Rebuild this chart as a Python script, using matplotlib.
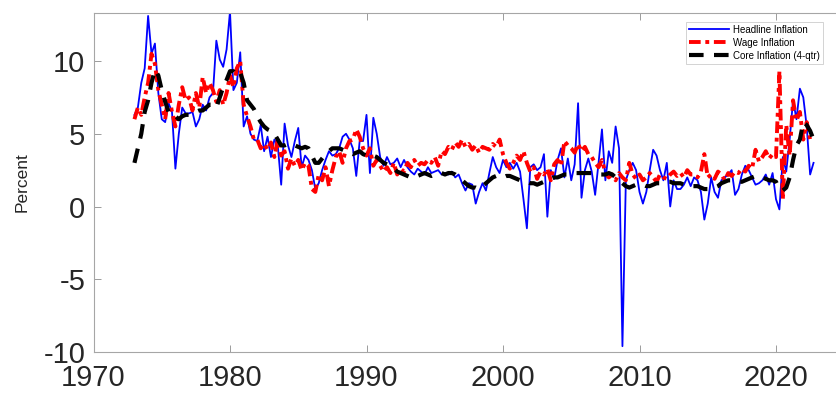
import numpy as np
import matplotlib
matplotlib.use("Agg")
import matplotlib.pyplot as plt

plt.rcParams['font.family'] = ['Liberation Sans', 'DejaVu Sans']
plt.rcParams['axes.unicode_minus'] = False

# quarterly, 1973Q1 .. 2022Q4
headline = [
    6.3, 6.8, 8.5, 9.5,   13.1, 10.5, 11.2, 7.8,   6.0, 5.8, 7.1, 6.5,   2.6, 5.0, 6.8, 6.4,
    6.4, 6.5, 5.5, 6.0,   7.0, 6.6, 7.5, 7.8,      11.4, 10.1, 9.6, 10.8, 13.4, 8.0, 8.5, 10.6,
    5.5, 6.2, 5.0, 4.6,   4.5, 5.6, 3.8, 4.8,      3.4, 4.6, 4.2, 1.5,   5.7, 4.2, 3.4, 4.5,
    5.4, 2.7, 3.5, 3.2,   2.5, 1.2, 1.6, 2.5,      3.2, 3.8, 3.5, 3.6,   4.0, 4.8, 5.0, 4.6,
    4.0, 2.1, 4.5, 4.5,   6.3, 2.3, 6.1, 5.0,      3.4, 2.8, 3.4, 2.9,   3.0, 3.3, 2.7, 3.2,
    2.7, 2.4, 2.2, 2.6,   2.4, 2.2, 2.7, 2.3,      2.4, 2.5, 2.2, 2.3,   2.2, 2.4, 2.0, 2.2,
    1.6, 1.1, 1.6, 1.5,   0.2, 1.0, 1.6, 1.1,      2.3, 3.4, 2.7, 2.3,   3.2, 2.7, 3.0, 2.6,
    3.0, 2.4, 0.5, -1.5,  2.7, 2.9, 2.5, 2.7,      3.6, -0.7, 2.5, 1.9,  3.2, 4.0, 2.0, 3.3,
    1.8, 2.9, 7.1, 0.6,   2.5, 3.3, 2.4, 0.8,      3.0, 5.3, 1.8, 3.8,   3.0, 5.5, 4.0, -9.6,
    1.8, 2.5, 3.0, 2.5,   1.0, 0.2, 1.0, 2.5,      3.9, 3.5, 2.5, 1.8,   3.0, 0.0, 1.8, 1.2,
    1.2, 1.5, 2.0, 1.4,   2.0, 1.8, 1.0, -0.9,     0.2, 2.0, 1.0, 0.6,   1.8, 2.0, 2.2, 2.5,
    0.8, 1.2, 2.2, 2.8,   2.5, 2.0, 1.5, 1.6,      1.8, 2.2, 1.5, 2.3,   0.5, -0.2, 3.4, 2.4,
    4.6, 7.3, 6.0, 8.1,   7.5, 5.5, 2.2, 3.0,
]

wage = [
    6.0, 6.8, 6.3, 7.5,   8.5, 10.5, 9.8, 8.0,     7.0, 6.0, 7.8, 6.5,   5.5, 7.0, 8.2, 7.3,
    7.5, 6.6, 7.8, 6.8,   8.9, 7.8, 8.5, 8.0,      7.2, 8.0, 7.0, 7.8,   9.0, 8.2, 9.5, 10.0,
    7.0, 6.2, 5.5, 4.6,   4.6, 4.0, 4.3, 3.9,      4.4, 3.4, 4.6, 3.5,   3.8, 2.6, 3.3, 2.8,
    3.2, 2.5, 3.0, 2.8,   1.2, 1.0, 2.2, 1.8,      2.7, 1.4, 2.5, 3.4,   3.8, 3.0, 4.0, 4.5,
    4.6, 5.3, 4.8, 4.0,   3.5, 4.0, 2.8, 3.2,      2.8, 2.4, 2.7, 2.3,   3.0, 2.2, 2.6, 2.4,
    3.0, 2.7, 3.2, 2.8,   3.0, 2.9, 3.2, 3.0,      3.4, 2.8, 3.8, 3.6,   4.1, 3.9, 4.4, 4.1,
    4.6, 4.1, 4.3, 3.9,   4.2, 3.7, 4.1, 4.0,      3.9, 4.3, 4.1, 4.6,   3.6, 3.0, 2.6, 3.0,
    3.5, 3.2, 3.8, 3.0,   2.4, 2.7, 1.9, 2.4,      2.2, 2.6, 1.8, 2.9,   3.2, 2.8, 4.5, 4.2,
    4.0, 3.7, 4.3, 3.8,   4.1, 3.6, 3.4, 3.0,      2.7, 3.2, 2.3, 2.0,   2.2, 1.8, 2.3, 2.0,
    1.8, 3.0, 2.2, 1.9,   2.2, 1.8, 2.0, 2.3,      2.0, 1.7, 2.2, 2.0,   1.9, 2.2, 2.4, 2.1,
    2.3, 2.0, 2.5, 2.2,   2.2, 2.0, 2.4, 3.6,      2.0, 2.2, 1.9, 2.4,   2.2, 1.8, 2.3, 2.1,
    2.4, 2.3, 2.6, 2.4,   2.8, 2.6, 3.9, 3.1,      3.4, 3.8, 3.3, 3.6,   3.4, 9.3, 0.5, 5.6,
    3.5, 7.3, 5.9, 6.5,   4.6, 5.8, 4.6, 4.6,
]

core = [
    3.0, 4.0, 5.0, 6.5,   7.3, 8.5, 9.4, 9.0,      8.0, 7.2, 6.5, 6.2,   6.2, 6.0, 6.2, 6.3,
    6.3, 6.4, 6.5, 6.6,   6.6, 6.8, 7.0, 7.0,      6.8, 7.5, 8.2, 8.7,   9.3, 9.3, 9.0, 9.2,
    8.5, 7.3, 7.0, 6.7,   6.2, 5.8, 5.5, 5.3,      5.2, 5.0, 4.6, 4.2,   4.2, 4.3, 4.3, 4.2,
    4.1, 4.0, 4.1, 4.0,   3.5, 3.0, 3.0, 3.3,      3.6, 3.8, 4.0, 4.0,   4.0, 3.9, 3.8, 3.7,
    3.6, 3.7, 3.8, 3.6,   3.5, 3.4, 3.5, 3.4,      3.2, 3.0, 2.9, 2.8,   2.6, 2.4, 2.3, 2.2,
    2.1, 2.0, 2.0, 2.1,   2.2, 2.3, 2.2, 2.1,      2.2, 2.3, 2.3, 2.2,   2.3, 2.3, 2.2, 2.0,
    1.8, 1.6, 1.4, 1.3,   1.3, 1.2, 1.4, 1.6,      1.8, 2.0, 2.1, 2.0,   2.0, 2.1, 2.1, 2.0,
    1.9, 1.8, 1.8, 1.7,   1.6, 1.6, 1.5, 1.6,      1.7, 1.8, 1.9, 2.0,   2.0, 2.1, 2.2, 2.2,
    2.2, 2.3, 2.3, 2.3,   2.3, 2.3, 2.3, 2.2,      2.2, 2.2, 2.2, 2.3,   2.2, 2.0, 1.8, 1.6,
    1.4, 1.3, 1.4, 1.5,   1.5, 1.5, 1.4, 1.4,      1.5, 1.6, 1.6, 1.7,   1.7, 1.7, 1.6, 1.6,
    1.6, 1.5, 1.5, 1.4,   1.4, 1.4, 1.3, 1.2,      1.2, 1.2, 1.3, 1.4,   1.6, 1.7, 1.8, 1.8,
    1.8, 1.7, 1.7, 1.8,   1.9, 2.0, 2.1, 2.0,      2.0, 1.9, 1.8, 1.8,   1.7, 1.2, 1.1, 1.3,
    2.0, 3.2, 4.2, 4.6,   5.8, 5.6, 5.2, 4.6,
]

dates = 1973 + np.arange(len(headline)) / 4.0

fig = plt.figure(figsize=(8.36, 3.94), dpi=100)
ax = fig.add_axes([93.5 / 836, 42 / 394, 750.75 / 836, 339 / 394])

ax.plot(dates, headline, color=(0, 0, 1), lw=1.3, label='Headline Inflation')
ax.plot(dates, wage, color=(1, 0, 0), lw=2.8, ls=(0, (3, 1.2, 1, 1.2)), label='Wage Inflation')
ax.plot(dates, core, color='black', lw=3.0, ls=(0, (3.5, 2.5)), label='Core Inflation (4-qtr)')

ax.set_xlim(1970, 2025)
ax.set_ylim(-10, 13.3)
ax.set_xticks([1970, 1980, 1990, 2000, 2010, 2020])
ax.set_yticks([-10, -5, 0, 5, 10])
ax.tick_params(direction='in', length=5, width=0.6, color='#8c8c8c',
               labelsize=21, labelcolor='#262626', top=True, right=True)
ax.tick_params(axis='x', pad=9)
ax.tick_params(axis='y', pad=6)
for s in ax.spines.values():
    s.set_color('#a6a6a6')
    s.set_linewidth(0.8)

ax.set_ylabel('Percent', fontsize=12.5, color='#262626', labelpad=10)

leg = fig.legend(loc='upper right', bbox_to_anchor=(828 / 836, 1 - 17 / 394),
                 fontsize=7, frameon=True, fancybox=False, handlelength=4.2,
                 handletextpad=0.4, borderpad=0.3, labelspacing=0.3)
leg.get_frame().set_edgecolor('#bfbfbf')
leg.get_frame().set_linewidth(0.6)

fig.savefig('out.png', dpi=100)
